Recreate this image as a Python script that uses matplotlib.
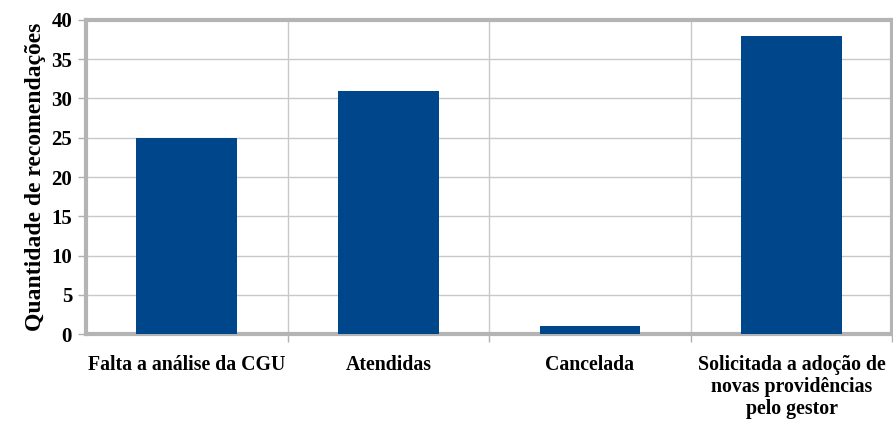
import matplotlib.pyplot as plt
import numpy as np

# dados do gráfico
categorias = ["Falta a análise da CGU", "Atendidas", "Cancelada",
              "Solicitada a adoção de\nnovas providências\npelo gestor"]
quantidades = [25, 31, 1, 38]

plt.rcParams['font.family'] = ['Liberation Serif', 'DejaVu Serif']
plt.rcParams['font.weight'] = 'bold'

fig = plt.figure(figsize=(8.93, 4.25), dpi=100)
ax = fig.add_axes([0.0963, 0.214, 0.903, 0.739])

x = np.arange(len(categorias))
ax.bar(x, quantidades, width=0.5, color='#00468B', zorder=3)

ax.set_xlim(-0.5, len(categorias) - 0.5)
ax.set_ylim(0, 40)
ax.set_yticks(range(0, 41, 5))

# linhas de grade verticais entre categorias
ax.set_xticks(x + 0.5, minor=True)
ax.set_xticks(x)
ax.set_xticklabels(categorias, fontsize=14.3, fontweight='bold', linespacing=1.15)
ax.tick_params(axis='x', which='major', length=0, pad=15)
ax.tick_params(axis='x', which='minor', length=6, color='#b0b0b0', width=1)
ax.tick_params(axis='y', length=6, color='#b0b0b0', width=1, labelsize=15, pad=4)
for lbl in ax.get_yticklabels():
    lbl.set_fontweight('bold')

ax.grid(axis='y', color='#c8c8c8', linewidth=1, zorder=0)
ax.grid(axis='x', which='minor', color='#c8c8c8', linewidth=1, zorder=0)

for s in ax.spines.values():
    s.set_color('#b4b4b4')
    s.set_linewidth(3)

ax.set_ylabel("Quantidade de recomendações", fontsize=17, fontweight='bold', labelpad=4)

plt.savefig('out.png', dpi=100)
